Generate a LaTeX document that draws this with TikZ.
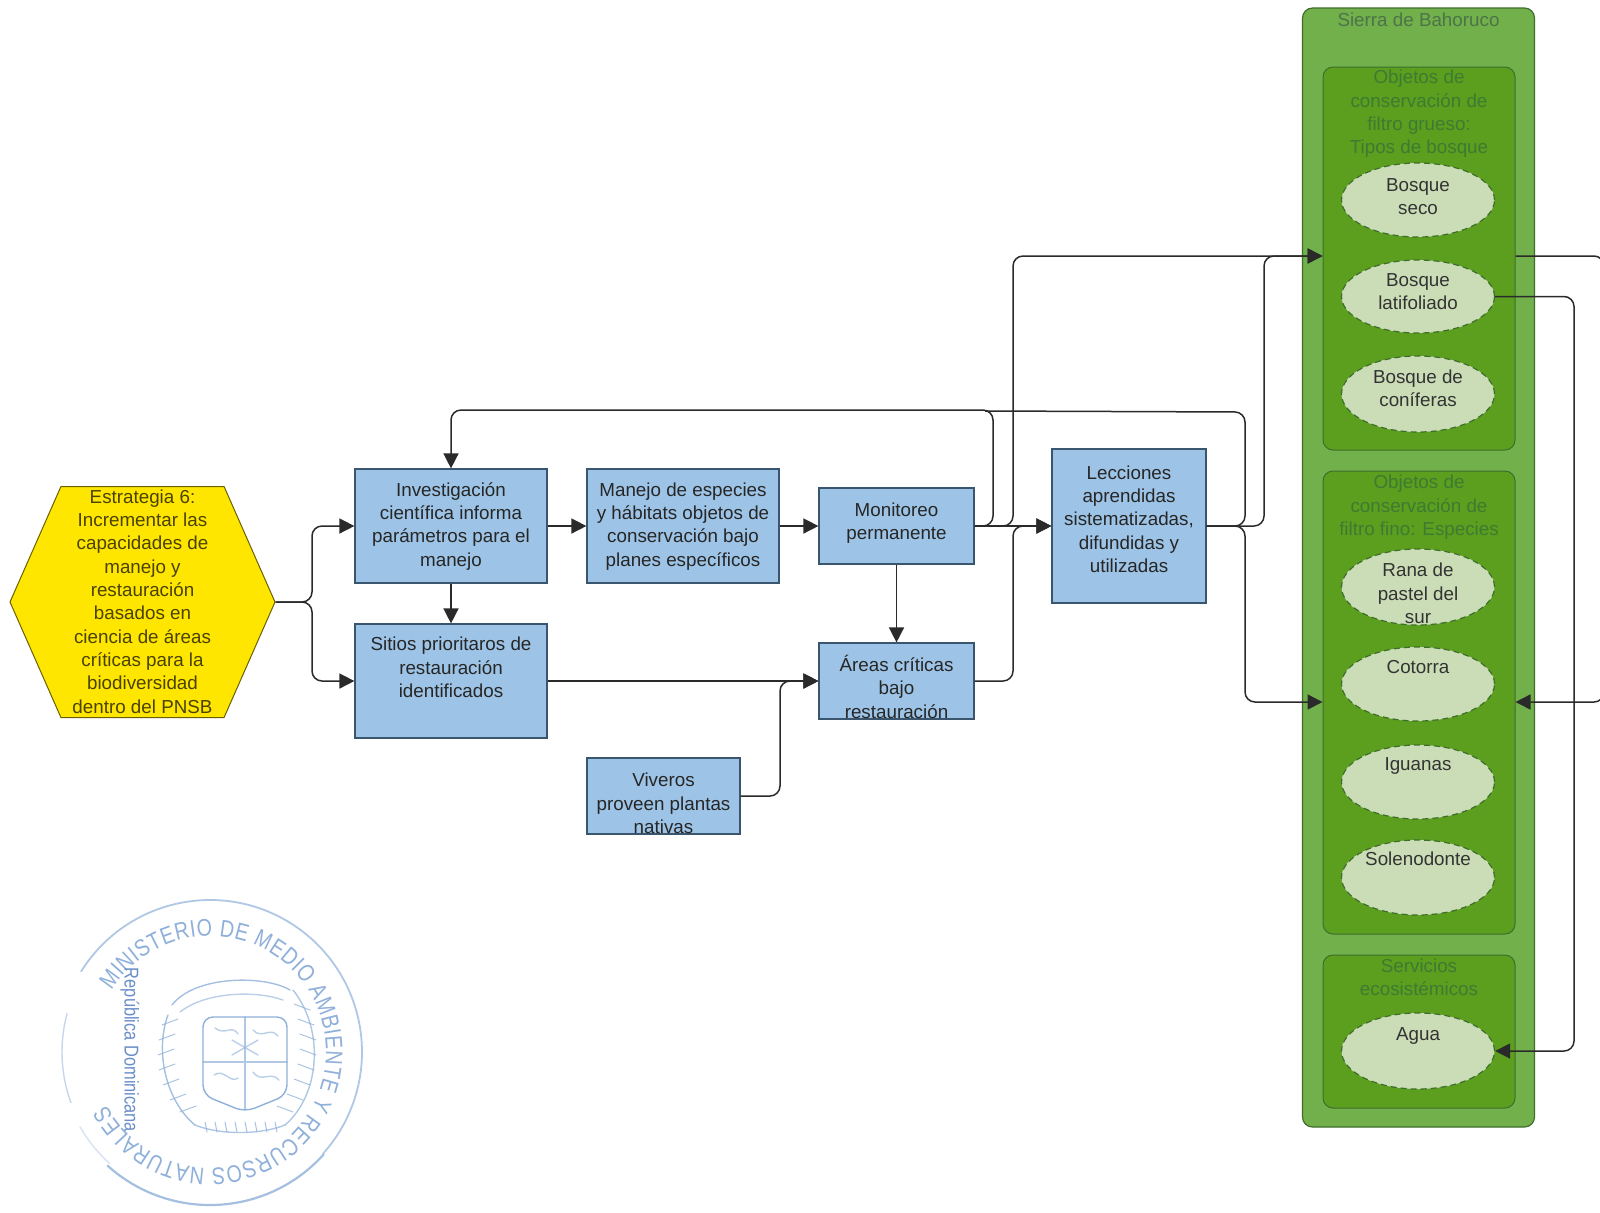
\documentclass[tikz,border=0pt]{standalone}
\usepackage{fontspec}
\setmainfont{Liberation Sans}
\newfontfamily\stampfont{Liberation Sans}[FakeStretch=0.82]
\usetikzlibrary{arrows.meta,shapes.geometric,shapes.symbols,decorations.text}
\definecolor{boxfill}{HTML}{9DC4E6}
\definecolor{boxline}{HTML}{3A566E}
\definecolor{hexfill}{HTML}{FFE600}
\definecolor{hexline}{HTML}{6B6000}
\definecolor{hextext}{HTML}{4A4200}
\definecolor{outerg}{HTML}{72B04C}
\definecolor{innerg}{HTML}{5C9E1E}
\definecolor{greenline}{HTML}{3E6E2C}
\definecolor{ellg}{HTML}{CADDB6}
\definecolor{titleout}{HTML}{4C7448}
\definecolor{titlein}{HTML}{3F7A32}
\definecolor{stampblue}{HTML}{8FB0DA}
\definecolor{stampdark}{HTML}{6A8FC8}
\definecolor{connc}{HTML}{2A2A2A}
\newcommand{\lbl}[2]{\raisebox{#1}[0pt][0pt]{\begin{tabular}[c]{@{}c@{}}#2\end{tabular}}}
\tikzset{
  basefont/.style={font=\fontsize{9.4}{11.65}\selectfont},
  bx/.style={draw=boxline,line width=0.6pt,fill=boxfill,inner sep=0pt,basefont,text=black!85},
  hexa/.style={signal,signal to=east and west,signal pointer angle=132.4,
    draw=hexline,line width=0.5pt,fill=hexfill,inner sep=0pt,basefont,text=hextext,
    minimum width=132.5pt,minimum height=115.5pt},
  outerbx/.style={rectangle,rounded corners=5pt,draw=greenline,line width=0.6pt,fill=outerg,inner sep=0pt,basefont,text=titleout},
  innerbx/.style={rectangle,rounded corners=5pt,draw=greenline,line width=0.5pt,fill=innerg,inner sep=0pt,basefont,text=titlein},
  ell/.style={ellipse,draw=greenline,densely dashed,line width=0.6pt,fill=ellg,inner sep=0pt,minimum width=76.5pt,basefont,text=black!80},
  conn/.style={draw=connc,line width=0.75pt,rounded corners=5pt},
  arr/.style={conn,-{Triangle[length=7.5pt,width=7.5pt]}},
  stampl/.style={draw=stampblue,line width=0.7pt,line cap=round},
  stampleaf/.style={draw=stampblue,line width=0.5pt,line cap=round,opacity=0.75}
}
\begin{document}
\begin{tikzpicture}[x=0.5pt,y=-0.5pt]
\useasboundingbox (0,0) rectangle (1600,1212);
\clip (0,0) rectangle (1600,1212);
\fill[white] (0,0) rectangle (1600,1212);

% strategy
\node[hexa] (hex) at (142.5,602) {\lbl{-3pt}{Estrategia 6:\\Incrementar las\\capacidades de\\manejo y\\restauración\\basados en\\ciencia de áreas\\críticas para la\\biodiversidad\\dentro del PNSB}};

% blue boxes
\node[bx,minimum width=96pt,minimum height=57pt] (inv) at (451,526) {\lbl{-2.5pt}{Investigación\\científica informa\\parámetros para el\\manejo}};
\node[bx,minimum width=96pt,minimum height=57pt] (man) at (683,526) {\lbl{-2.5pt}{Manejo de especies\\y hábitats objetos de\\conservación bajo\\planes específicos}};
\node[bx,minimum width=96pt,minimum height=57pt] (sit) at (451,681) {\lbl{3.5pt}{Sitios prioritaros de\\restauración\\identificados}};
\node[bx,minimum width=76.5pt,minimum height=38pt] (viv) at (663.5,796) {\lbl{-7pt}{Viveros\\proveen plantas\\nativas}};
\node[bx,minimum width=77.5pt,minimum height=38pt] (mon) at (896.5,526) {\lbl{-1pt}{Monitoreo\\permanente}};
\node[bx,minimum width=77.5pt,minimum height=38pt] (are) at (896.5,681) {\lbl{-6.8pt}{Áreas críticas\\bajo\\restauración}};
\node[bx,minimum width=77pt,minimum height=77pt] (lec) at (1129,526) {\lbl{0.2pt}{Lecciones\\aprendidas\\sistematizadas,\\difundidas y\\utilizadas}};

% green panels
\node[outerbx,minimum width=116pt,minimum height=559.5pt] (sierra) at (1418.5,567.5) {\lbl{270.5pt}{Sierra de Bahoruco}};
\node[innerbx,minimum width=96pt,minimum height=191.5pt] (grueso) at (1419,258.5) {\lbl{70pt}{Objetos de\\conservación de\\filtro grueso:\\Tipos de bosque}};
\node[innerbx,minimum width=96pt,minimum height=231.5pt] (fino) at (1419,702.5) {\lbl{95.2pt}{Objetos de\\conservación de\\filtro fino: Especies}};
\node[innerbx,minimum width=96pt,minimum height=76.5pt] (serv) at (1419,1031.5) {\lbl{24pt}{Servicios\\ecosistémicos}};

% ellipses
\node[ell,minimum height=37pt] (seco) at (1418,200) {\lbl{-1.5pt}{Bosque\\seco}};
\node[ell,minimum height=36.5pt] (lat) at (1418,296.5) {\lbl{-0.8pt}{Bosque\\latifoliado}};
\node[ell,minimum height=38pt] (con) at (1418,394) {\lbl{-0.3pt}{Bosque de\\coníferas}};
\node[ell,minimum height=38pt] (rana) at (1418,587) {\lbl{-6.5pt}{Rana de\\pastel del\\sur}};
\node[ell,minimum height=37pt] (cot) at (1418,684) {\lbl{5.5pt}{Cotorra}};
\node[ell,minimum height=37pt] (igu) at (1418,782) {\lbl{6pt}{Iguanas}};
\node[ell,minimum height=37.5pt] (sol) at (1418,877.5) {\lbl{6pt}{Solenodonte}};
\node[ell,minimum height=38pt] (agu) at (1418,1051) {\lbl{5.5pt}{Agua}};

% free ends
\coordinate (grL) at (grueso.west |- 0,256);
\coordinate (grR) at (grueso.east |- 0,256);
\coordinate (fiL) at (fino.west |- 0,702);
\coordinate (fiR) at (fino.east |- 0,702);
\coordinate (hexs) at (312,602);
\coordinate (topL) at (451,410);
\coordinate (topM) at (993,410);
\coordinate (topJ) at (985,411);
\coordinate (topR) at (1245,412);

% connectors
\draw[arr] (hex.east) -- (hexs) |- (inv.west);
\draw[arr] (hex.east) -- (hexs) |- (sit.west);
\draw[arr] (inv.east) -- (man.west);
\draw[arr] (man.east) -- (mon.west);
\draw[arr] (mon.east) -- (lec.west);
\draw[arr] (inv.south) -- (sit.north);
\draw[arr] (mon.south) -- (are.north);
\draw[arr] (sit.east) -- (are.west);
\draw[arr] (viv.east) -- (780,796) -- (780,681) -- (are.west);
\draw[arr] (are.east) -- (1013,681) -- (1013,526) -- (lec.west);
\draw[arr] (mon.east) -- (topM |- mon.east) -- (topM) -- (topL) -- (inv.north);
\draw[arr] (mon.east) -- (1013,526) -- (1013,256) -- (grL);
\draw[arr] (lec.east) -- (1264,526) -- (1264,256) -- (grL);
\draw[conn] (lec.east) -- (topR |- lec.east) -- (topR) -- (topJ);
\draw[arr] (lec.east) -- (topR |- lec.east) -- (1245,702) -- (fiL);
\draw[arr] (grR) -- (1604,256) -- (1604,702) -- (fiR);
\draw[arr] (lat.east) -- (1574,296.5) -- (1574,1051) -- (agu.east);

% stamp
\begin{scope}[shift={(210,1052)},x=0.5pt,y=0.5pt]
  \draw[stampl,line width=0.9pt,opacity=0.7] (148:152) arc[start angle=148,delta angle=-190,radius=152];
  \draw[stampl,line width=1.1pt,opacity=0.8] (-42:153) arc[start angle=-42,delta angle=-90,radius=153];
  \draw[stampl,line width=0.7pt,opacity=0.5] (165:148) arc[start angle=165,delta angle=35,radius=148];
  \draw[stampl,opacity=0.35] (-132:150) arc[start angle=-132,delta angle=-18,radius=150];
  \path[decorate,decoration={text along path,text align=fit to path,
    text={|\stampfont\fontsize{12}{12}\selectfont\color{stampblue}|MINISTERIO DE MEDIO AMBIENTE Y RECURSOS NATURALES}}]
    (148:116) arc[start angle=148,delta angle=-301,radius=116];
  \node[rotate=-90,text=stampdark,font=\stampfont\fontsize{10}{11}\selectfont] (rd) at (-80,2) {República Dominicana};
\end{scope}
% coat of arms (stamp)
\draw[stampl,rounded corners=5pt] (203,1017) -- (287,1017) -- (287,1095) -- (245,1112) -- (203,1095) -- cycle;
\draw[stampl,opacity=0.7] (245,1017) -- (245,1110) (203,1062) -- (287,1062);
\draw[stampl,opacity=0.6] (215,1028) .. controls (225,1036) and (232,1024) .. (238,1034)
  (253,1030) .. controls (262,1040) and (270,1026) .. (278,1036)
  (214,1075) .. controls (224,1068) and (230,1084) .. (238,1078)
  (253,1072) .. controls (262,1084) and (270,1070) .. (279,1080)
  (232,1040) -- (258,1055) (258,1040) -- (232,1055);
\draw[stampl,opacity=0.8] (172,1005) .. controls (195,975) and (265,975) .. (290,990);
\draw[stampl,opacity=0.6] (180,1012) .. controls (205,992) and (255,990) .. (283,1000);
\draw[stampl,opacity=0.8] (168,1015) .. controls (155,1050) and (165,1100) .. (195,1125);
\draw[stampl,opacity=0.7] (293,990) .. controls (325,1030) and (320,1095) .. (285,1125);
\draw[stampl,opacity=0.7] (195,1125) .. controls (220,1135) and (260,1135) .. (285,1125);
\foreach \yy/\xx in {1025/162,1040/159,1055/158,1070/159,1085/163,1100/170,1112/180}
  \draw[stampleaf] (\xx,\yy) -- ++(16,-6);
\foreach \yy/\xx in {1010/310,1025/314,1040/316,1055/316,1070/314,1085/310,1100/303,1112/293}
  \draw[stampleaf] (\xx,\yy) -- ++(-16,-6);
\foreach \xx in {205,215,225,235,245,255,265,275}
  \draw[stampleaf] (\xx,1122) -- ++(2,10);
\end{tikzpicture}
\end{document}
